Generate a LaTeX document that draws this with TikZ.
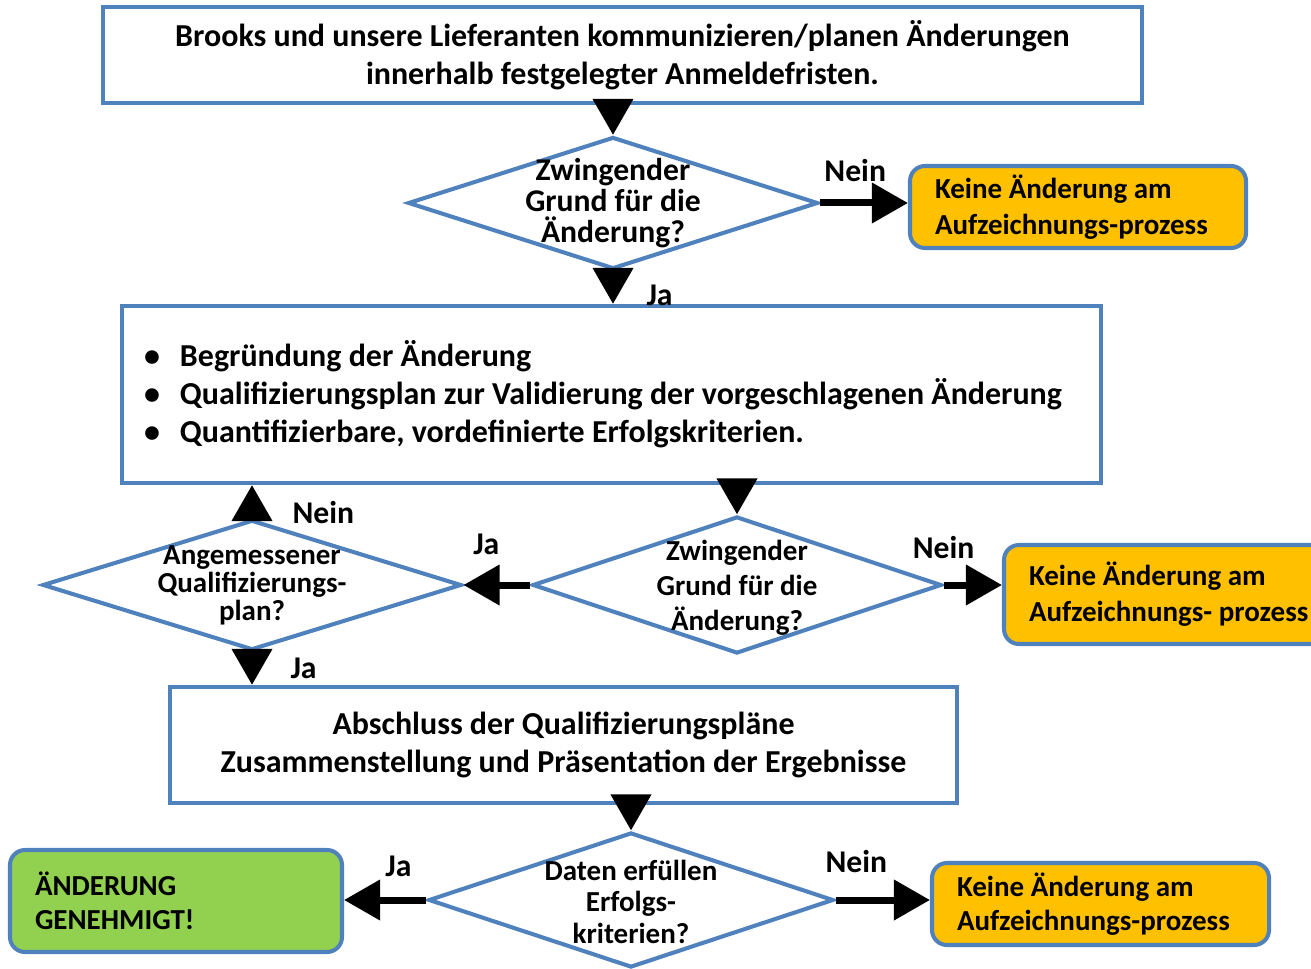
\documentclass[tikz,border=0pt]{standalone}
\usepackage{fontspec}
\setmainfont{Carlito}
\usepackage{tikz}
\usetikzlibrary{arrows.meta,shapes.geometric,positioning}
\definecolor{frame}{RGB}{79,129,189}
\definecolor{keine}{RGB}{255,192,0}
\definecolor{gut}{RGB}{146,208,80}

\begin{document}
\begin{tikzpicture}[
  box/.style={draw=frame, line width=2.3pt, fill=white, align=center, font=\fontsize{18.2}{21.6}\selectfont\bfseries},
  dia/.style={diamond, draw=frame, line width=2.3pt, fill=white, inner sep=0pt},
  diatext/.style={align=center, inner sep=0pt},
  stop/.style={draw=frame, line width=2.3pt, rounded corners=0.3cm, fill=keine, align=flush left, inner xsep=0.5cm, font=\fontsize{16.5}{20.4}\selectfont\bfseries},
  lbl/.style={inner sep=0pt, font=\fontsize{18}{21.6}\selectfont\bfseries},
  arr/.style={-{Triangle[length=0.72cm,width=0.78cm]}, line width=0.14cm}
]
\useasboundingbox (0,0) rectangle (26.22,-19.38);

\node[box, minimum width=20.78cm, minimum height=1.92cm] (start) at (12.45,-1.10)
  {Brooks und unsere Lieferanten kommunizieren/planen Änderungen\\innerhalb festgelegter Anmeldefristen.};
\node[dia, minimum width=8.2cm, minimum height=2.64cm] (grund1) at (12.26,-4.06) {};
\node[diatext, font=\fontsize{18}{17.6}\selectfont\bfseries] (grund1text) at (grund1) {Zwingender\\Grund für die\\Änderung?};
\node[stop, minimum width=6.72cm, minimum height=1.64cm, text width=5.72cm] (keine1) at (21.56,-4.14)
  {Keine Änderung am\\Aufzeichnungs-prozess};

\node[box, align=flush left, text width=18.7cm, inner xsep=0.44cm, minimum height=3.54cm] (plan) at (12.23,-7.89)
  {\makebox[0.72cm][l]{\textbullet}Begründung der Änderung\\
   \makebox[0.72cm][l]{\textbullet}Qualifizierungsplan zur Validierung der vorgeschlagenen Änderung\\
   \makebox[0.72cm][l]{\textbullet}Quantifizierbare, vordefinierte Erfolgskriterien.};

\node[dia, minimum width=8.18cm, minimum height=2.74cm] (grund2) at (14.74,-11.70) {};
\node[diatext, font=\fontsize{16.5}{19.8}\selectfont\bfseries] (grund2text) at ([yshift=-0.05cm]grund2) {Zwingender\\Grund für die\\Änderung?};
\node[stop, minimum width=6.72cm, minimum height=1.98cm, text width=5.72cm] (keine2) at (23.44,-11.89)
  {Keine Änderung am\\Aufzeichnungs- prozess};
\node[dia, minimum width=8.38cm, minimum height=2.60cm] (angemessen) at (5.04,-11.70) {};
\node[diatext, font=\fontsize{16.5}{15.9}\selectfont\bfseries] (angemessentext) at (angemessen) {Angemessener\\Qualifizierungs-\\plan?};

\node[box, minimum width=15.74cm, minimum height=2.32cm] (abschluss) at (11.27,-14.90)
  {Abschluss der Qualifizierungspläne\\Zusammenstellung und Präsentation der Ergebnisse};

\node[dia, minimum width=8.10cm, minimum height=2.70cm] (daten) at (12.62,-18.00) {};
\node[diatext, font=\fontsize{16.5}{17.9}\selectfont\bfseries] (datentext) at ([yshift=-0.03cm]daten) {Daten erfüllen\\Erfolgs-\\kriterien?};
\node[stop, fill=gut, minimum width=6.64cm, minimum height=2.04cm, text width=5.64cm, font=\fontsize{16.5}{19.3}\selectfont\bfseries] (genehmigt) at (3.52,-18.02)
  {ÄNDERUNG\\GENEHMIGT!};
\node[stop, minimum width=6.74cm, minimum height=1.64cm, text width=5.74cm, font=\fontsize{16.5}{19.3}\selectfont\bfseries] (keine3) at (22.01,-18.08)
  {Keine Änderung am\\Aufzeichnungs-prozess};

\path[arr]
  (start.south -| grund1.north) edge (grund1.north)
  (grund1.east) edge node[lbl, above=0.36cm, pos=0.4] {Nein} (grund1.east -| keine1.west)
  (grund1.south) edge node[lbl, right=0.6cm, pos=0.74] {Ja} (grund1.south |- plan.north)
  (plan.south -| grund2.north) edge (grund2.north)
  (grund2.west) edge node[lbl, above=0.54cm, pos=0.66] {Ja} (angemessen.east)
  (grund2.east) edge node[lbl, above=0.46cm, pos=0] {Nein} (grund2.east -| keine2.west)
  (angemessen.north) edge node[lbl, right=0.74cm, pos=0.17] {Nein} (angemessen.north |- plan.south)
  (angemessen.south) edge node[lbl, right=0.7cm, pos=0.51] {Ja} (angemessen.south |- abschluss.north)
  (abschluss.south -| daten.north) edge (daten.north)
  (daten.west) edge node[lbl, above=0.4cm, pos=0.34] {Ja} (daten.west -| genehmigt.east)
  (daten.east) edge node[lbl, above=0.48cm, pos=0.22] {Nein} (daten.east -| keine3.west);
\end{tikzpicture}
\end{document}
